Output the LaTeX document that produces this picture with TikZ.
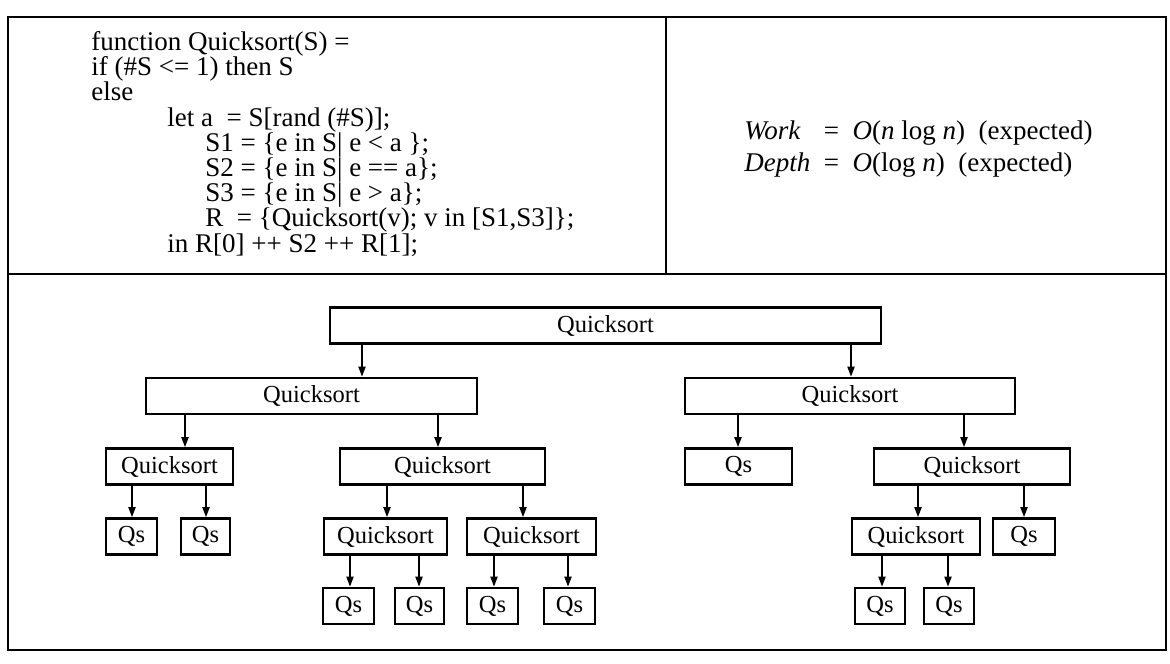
\documentclass[tikz,border=0pt]{standalone}
\usepackage{fontspec}
\setmainfont{Liberation Serif}
\usetikzlibrary{arrows.meta}
\newcommand{\qsfont}{\fontsize{12.25}{14}\selectfont}
\newcommand{\codefont}{\fontsize{13.5}{12.6}\selectfont}
\tikzset{
  qbox/.style={draw, line width=1.4pt, minimum height=18pt, inner sep=0pt, font=\qsfont},
  wd/.style={minimum width=#1*0.5pt},
  qarrow/.style={line width=0.75pt, -{Triangle[length=5pt,width=3.6pt]}},
}

\begin{document}
\begin{tikzpicture}[x=0.5pt, y=-0.5pt]
\useasboundingbox (0,0) rectangle (1170,663);
% ---------- frame ----------
\draw[line width=1pt] (8,17) rectangle (1166,650);
\draw[line width=1pt] (8,274) -- (1166,274);
\draw[line width=1pt] (666,17) -- (666,274);
% ---------- program and cost ----------
\node[anchor=north west, inner sep=0pt, align=left, font=\codefont] (code) at (91,31)
  {function Quicksort(S) =\\
   if (\#S <= 1) then S\\
   else\\
   \hspace*{38pt}let a \ = S[rand (\#S)];\\
   \hspace*{57pt}S1 = \{e in S| e < a \};\\
   \hspace*{57pt}S2 = \{e in S| e == a\};\\
   \hspace*{57pt}S3 = \{e in S| e > a\};\\
   \hspace*{57pt}R \ = \{Quicksort(v); v in [S1,S3]\};\\
   \hspace*{38pt}in R[0] ++ S2 ++ R[1];};
\node[anchor=base west, inner sep=0pt, font=\fontsize{13.5}{16}\selectfont] (cost) at (744,140)
  {\begin{tabular}[t]{@{}l@{\ \ =\ \ }l@{}}
   \textit{Work} & \textit{O}(\textit{n} log \textit{n})\ \ (expected)\\
   \textit{Depth} & \textit{O}(log \textit{n})\ \ (expected)
   \end{tabular}};
% ---------- recursion tree ----------
\node[qbox, wd=551] (t) at (605.5,325.5) {Quicksort};
\node[qbox, wd=331] (tl) at (311.5,396) {Quicksort};
\node[qbox, wd=330] (tr) at (850,396) {Quicksort};
\node[qbox, wd=127] (tll) at (169.5,466.5) {Quicksort};
\node[qbox, wd=205] (tlr) at (442.5,466.5) {Quicksort};
\node[qbox, wd=107] (trl) at (738.5,466.5) {Qs};
\node[qbox, wd=196] (trr) at (972,466.5) {Quicksort};
\node[qbox, wd=51] (tlll) at (131.5,536.5) {Qs};
\node[qbox, wd=49] (tllr) at (205.5,536.5) {Qs};
\node[qbox, wd=123] (tlrl) at (385.5,536.5) {Quicksort};
\node[qbox, wd=129] (tlrr) at (531.5,536.5) {Quicksort};
\node[qbox, wd=128] (trrl) at (916,536.5) {Quicksort};
\node[qbox, wd=62] (trrr) at (1024,536.5) {Qs};
\node[qbox, wd=51] (tlrll) at (348.5,606) {Qs};
\node[qbox, wd=49] (tlrlr) at (419.5,606) {Qs};
\node[qbox, wd=51] (tlrrl) at (492.5,606) {Qs};
\node[qbox, wd=51] (tlrrr) at (569.5,606) {Qs};
\node[qbox, wd=50] (trrll) at (880,606) {Qs};
\node[qbox, wd=50] (trrlr) at (949,606) {Qs};
% calls
\foreach \p/\c/\x in {t/tl/362, t/tr/851, tl/tll/185, tl/tlr/438, tr/trl/738, tr/trr/964,
    tll/tlll/132, tll/tllr/206, tlr/tlrl/387, tlr/tlrr/523, trr/trrl/918, trr/trrr/1024,
    tlrl/tlrll/350, tlrl/tlrlr/419, tlrr/tlrrl/494, tlrr/tlrrr/568, trrl/trrll/882, trrl/trrlr/948}
  \draw[qarrow] (\p.south -| \x,0) -- (\c.north -| \x,0);
\end{tikzpicture}
\end{document}
